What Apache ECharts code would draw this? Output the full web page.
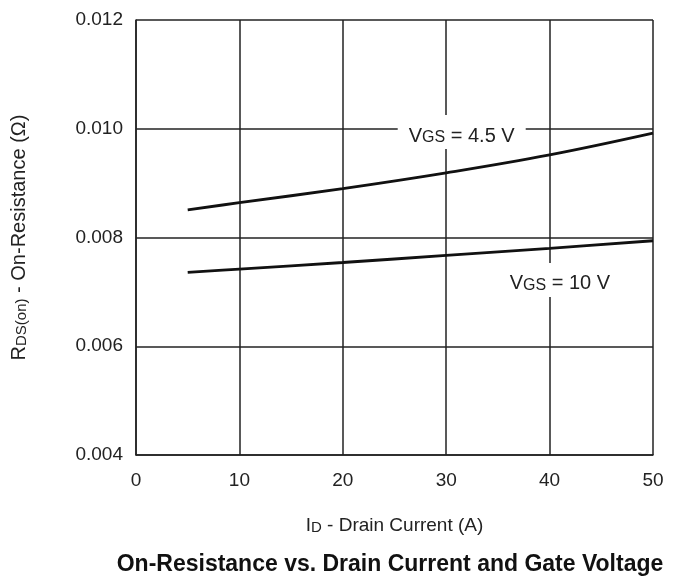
<!DOCTYPE html>
<html>
<head>
<meta charset="utf-8">
<script src="https://cdn.jsdelivr.net/npm/echarts@6/dist/echarts.min.js"></script>
<style>html,body{margin:0;padding:0;background:#fff;}#c{width:673px;height:578px;}</style>
</head>
<body>
<div id="c"></div>
<script>
// Drain current (A)
const currents = [5, 10, 20, 30, 40, 50];
// On-resistance (ohm) for each gate voltage
const rdsVgs45 = [0.00851, 0.00864, 0.00890, 0.00919, 0.00952, 0.00992];
const rdsVgs10 = [0.00736, 0.00742, 0.00754, 0.00767, 0.00780, 0.00794];
const xTicks = [0, 10, 20, 30, 40, 50];
const yTicks = [0.004, 0.006, 0.008, 0.010, 0.012];
const labelVgs45 = { coord: [31.5, 0.00994], main: 'V', sub: 'GS', rest: ' = 4.5 V' };
const labelVgs10 = { coord: [41.0, 0.00722], main: 'V', sub: 'GS', rest: ' = 10 V' };

const FONT = '"Liberation Sans", Arial, Helvetica, sans-serif';
const COL = '#222';
function richFor(main, sub) {
  return {
    v: { fontSize: main, fontFamily: FONT, color: COL, lineHeight: main + 8, verticalAlign: 'bottom' },
    s: { fontSize: sub, fontFamily: FONT, color: COL, lineHeight: sub, verticalAlign: 'bottom' }
  };
}
function labelPoint(l, w) {
  return {
    coord: l.coord,
    symbol: 'rect',
    symbolSize: [w, 34],
    itemStyle: { color: '#fff' },
    label: {
      show: true,
      position: 'inside',
      formatter: '{v|' + l.main + '}{s|' + l.sub + '}{v|' + l.rest + '}',
      rich: richFor(20, 16)
    }
  };
}

const chart = echarts.init(document.getElementById('c'));
chart.setOption({
  animation: false,
  backgroundColor: '#fff',
  textStyle: { fontFamily: FONT },
  title: {
    text: 'On-Resistance vs. Drain Current and Gate Voltage',
    left: 385, textAlign: 'center', top: 548,
    textStyle: { fontSize: 23, fontWeight: 'bold', color: '#111', fontFamily: FONT }
  },
  grid: { left: 136, right: 20, top: 20, bottom: 123 },
  xAxis: {
    type: 'value', min: xTicks[0], max: xTicks[xTicks.length - 1], interval: 10,
    name: '{v|I}{s|D}{v| - Drain Current (A)}',
    nameLocation: 'middle', nameGap: 53,
    nameTextStyle: { rich: richFor(19, 15) },
    axisLine: { lineStyle: { color: COL, width: 1.5 } },
    axisTick: { show: false },
    axisLabel: { color: COL, fontSize: 19, margin: 16, fontFamily: FONT },
    splitLine: { show: true, lineStyle: { color: COL, width: 1.5 } }
  },
  yAxis: {
    type: 'value', min: yTicks[0], max: yTicks[yTicks.length - 1], interval: 0.002,
    name: '{v|R}{s|DS(on)}{v| - On-Resistance (Ω)}',
    nameLocation: 'middle', nameGap: 107, nameRotate: 90,
    nameTextStyle: { rich: richFor(20, 15) },
    axisLine: { show: true, lineStyle: { color: COL, width: 1.5 } },
    axisTick: { show: false },
    axisLabel: { color: COL, fontSize: 19, margin: 13, fontFamily: FONT,
      formatter: v => v.toFixed(3) },
    splitLine: { show: true, lineStyle: { color: COL, width: 1.5 } }
  },
  series: [
    {
      type: 'line', smooth: 0.4, showSymbol: false,
      data: currents.map((x, i) => [x, rdsVgs45[i]]),
      lineStyle: { color: '#111', width: 2.8 },
      markPoint: { silent: true, data: [labelPoint(labelVgs45, 128)] }
    },
    {
      type: 'line', smooth: 0.4, showSymbol: false,
      data: currents.map((x, i) => [x, rdsVgs10[i]]),
      lineStyle: { color: '#111', width: 2.8 },
      markPoint: { silent: true, data: [labelPoint(labelVgs10, 120)] }
    }
  ]
});
</script>
</body>
</html>
